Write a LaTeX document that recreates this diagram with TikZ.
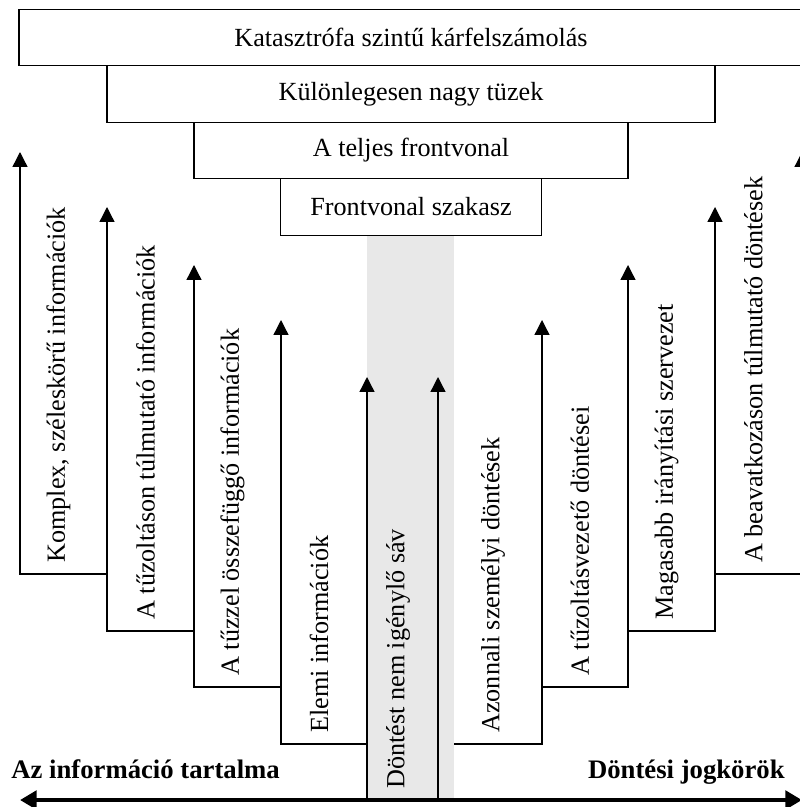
\documentclass[tikz,border=0pt]{standalone}
\usepackage{fontspec}
\setmainfont{Liberation Serif}
\usetikzlibrary{arrows.meta, positioning}
\newcommand{\lblfont}{\fontsize{14.9pt}{17pt}\selectfont}
\tikzset{
  lvlbox/.style={rectangle, draw=black, line width=0.8pt, fill=white,
              minimum height=1.13cm, inner sep=0pt, outer sep=0pt, font=\lblfont, align=center},
  uparrow/.style={-{Triangle[length=8.5pt, width=8.5pt]}, line width=0.75pt},
  vlabel/.style={rotate=90, anchor=west, inner sep=0pt, font=\lblfont},
  axislabel/.style={font=\fontsize{15.2pt}{17pt}\selectfont\bfseries, inner sep=0pt},
  axisarrow/.style={{Triangle[length=9.5pt, width=10.5pt]}-{Triangle[length=9.5pt, width=10.5pt]}, line width=2.8pt},
  savfill/.style={fill=gray!18},
}

\begin{document}
\begin{tikzpicture}[x=0.02cm, y=-0.02cm]
  \useasboundingbox (0,0) rectangle (800,807);
  \clip (0,0) rectangle (800,807);
  % grey band in the middle
  \fill[savfill] (367,235) rectangle (454,800);
  % levels, widest on top
  \node[lvlbox, minimum width=15.68cm] (lvl1) at (411,37.5) {Katasztrófa szintű kárfelszámolás};
  \node[lvlbox, minimum width=12.16cm, below=0pt of lvl1] (lvl2) {Különlegesen nagy tüzek};
  \node[lvlbox, minimum width=8.68cm, below=0pt of lvl2] (lvl3) {A teljes frontvonal};
  \node[lvlbox, minimum width=5.22cm, below=0pt of lvl3] (lvl4) {Frontvonal szakasz};
  % information side (left staircase)
  \foreach \i/\xa/\xb/\yb/\yt/\lab in {
      1/20/107/574/152/{Komplex, széleskörű információk},
      2/107/194/631/207/{A tűzoltáson túlmutató információk},
      3/194/281/687/265/{A tűzzel összefüggő információk},
      4/281/367/744/320/{Elemi információk}}{
    \coordinate (ib\i) at (\xa,\yb);
    \coordinate (is\i) at (\xb,\yb);
    \coordinate (it\i) at (\xa,\yt);
    \draw[uparrow] (is\i) -- (ib\i) -- (it\i);
    \node[vlabel] (il\i) at ({(\xa+\xb)/2-5},\yb-11) {\lab};
  }
  % band without decisions
  \coordinate (gb1) at (367,800);
  \coordinate (gt1) at (367,377);
  \coordinate (gb2) at (438,800);
  \coordinate (gt2) at (438,377);
  \draw[uparrow] (gb1) -- (gt1);
  \draw[uparrow] (gb2) -- (gt2);
  \node[vlabel] (glab) at (398,789) {Döntést nem igénylő sáv};
  % decision side (right staircase)
  \foreach \i/\xa/\xb/\yb/\yt/\lab in {
      1/454/542/744/320/{Azonnali személyi döntések},
      2/542/628/687/265/{A tűzoltásvezető döntései},
      3/628/715/631/207/{Magasabb irányítási szervezet},
      4/715/802/574/152/{A beavatkozáson túlmutató döntések}}{
    \coordinate (ds\i) at (\xa,\yb);
    \coordinate (db\i) at (\xb,\yb);
    \coordinate (dt\i) at (\xb,\yt);
    \draw[uparrow] (ds\i) -- (db\i) -- (dt\i);
    \node[vlabel] (dl\i) at ({(\xa+\xb)/2-5},\yb-11) {\lab};
  }
  % bottom axis
  \coordinate (axl) at (20,800);
  \coordinate (axr) at (802,800);
  \draw[axisarrow] (axl) -- (axr);
  \node[axislabel, anchor=base west] (infolab) at (11,778) {Az információ tartalma};
  \node[axislabel, anchor=base east] (dontlab) at (785,778) {Döntési jogkörök};
\end{tikzpicture}
\end{document}
